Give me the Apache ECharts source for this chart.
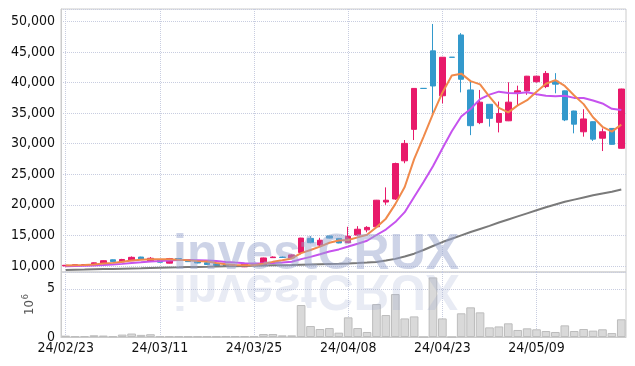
<!DOCTYPE html>
<html>
<head>
<meta charset="utf-8">
<script src="https://cdn.jsdelivr.net/npm/echarts@6/dist/echarts.min.js"></script>
<style>
  html, body { margin: 0; padding: 0; background: #fff; }
  #chart { width: 635px; height: 366px; }
</style>
</head>
<body>
<div id="chart"></div>
<script>
// trading days (yy/mm/dd)
const dates = [
  '24/02/23','24/02/26','24/02/27','24/02/28','24/02/29','24/03/04','24/03/05','24/03/06','24/03/07','24/03/08',
  '24/03/11','24/03/12','24/03/13','24/03/14','24/03/15','24/03/18','24/03/19','24/03/20','24/03/21','24/03/22',
  '24/03/25','24/03/26','24/03/27','24/03/28','24/03/29','24/04/01','24/04/02','24/04/03','24/04/04','24/04/05',
  '24/04/08','24/04/09','24/04/11','24/04/12','24/04/15','24/04/16','24/04/17','24/04/18','24/04/19','24/04/22',
  '24/04/23','24/04/24','24/04/25','24/04/26','24/04/29','24/04/30','24/05/02','24/05/03','24/05/07','24/05/08',
  '24/05/09','24/05/10','24/05/13','24/05/14','24/05/16','24/05/17','24/05/20','24/05/21','24/05/22','24/05/23'
];

const opens = [
  10000,10080,10200,10180,10400,11000,10650,10850,11450,10800,
  11020,10450,11200,11000,10780,10520,10350,10250,9950,9850,
  10100,10150,11350,11450,11300,12200,14500,13400,14900,14500,
  13800,15050,15900,16400,20450,20950,27200,32350,39060,45200,
  37850,44160,47800,38800,33450,36450,33500,33750,38250,38650,
  40150,39350,40250,38650,35350,31950,33600,30900,32500,29250
];
const closes = [
  10100,10200,10220,10500,10850,10700,11050,11400,11080,11250,
  10600,11200,10920,10700,10480,10220,10050,9950,10050,10300,
  10200,11300,11450,11380,11800,14550,13800,14200,14550,13750,
  14850,16000,16300,20750,20750,26750,30050,39050,39040,39450,
  44150,44140,40550,32950,36800,34150,34950,36800,38650,41050,
  41050,41500,39750,33900,33200,34050,30750,31950,29900,38950
];
const lows = [
  9950,10050,10150,10150,10350,10650,10550,10800,11000,10700,
  10550,10400,10850,10650,10420,10150,10000,9900,9900,9800,
  10050,10100,11300,11300,11250,11900,13700,13200,14500,13700,
  13750,14900,15500,16300,20000,20800,26800,30600,39040,35000,
  36600,44140,38400,31400,33200,32800,31850,33700,36300,38000,
  40000,39100,38250,33700,31700,31150,30450,28800,29850,29200
];
const highs = [
  10150,10250,10280,10550,10900,11050,11150,11550,11500,11450,
  11100,11300,11300,11050,10850,10600,10420,10300,10100,10350,
  10250,11350,11550,11550,11900,14600,14900,14600,14950,14550,
  16400,16500,16500,20800,22850,26900,30600,39100,39060,49600,
  44200,44160,48100,40150,38800,36500,36900,40050,39500,41100,
  41100,41900,41550,38700,35400,35650,33650,32500,32550,39000
];

// volume, millions of shares
const volume = [
  0.14,0.07,0.10,0.18,0.15,0.07,0.25,0.36,0.22,0.29,
  0.07,0.06,0.06,0.05,0.05,0.05,0.04,0.06,0.07,0.07,
  0.07,0.31,0.31,0.17,0.17,3.32,1.14,0.83,0.93,0.45,
  2.04,0.93,0.52,3.42,2.28,4.46,1.93,2.14,0,6.19,
  1.93,0,2.46,3.08,2.56,1.00,1.10,1.42,0.73,0.90,
  0.80,0.62,0.52,1.21,0.62,0.83,0.66,0.80,0.41,1.84
];

// moving averages
const ma5 = [
  10050,10100,10130,10220,10374,10494,10664,10900,11016,11096,
  11076,11106,11010,10934,10780,10704,10474,10280,10150,10114,
  10110,10360,10660,10926,11226,12096,12596,13146,13780,14170,
  14230,14670,15090,16330,17730,20110,22920,27470,31128,34868,
  38348,41166,41466,40248,39718,37718,35880,35130,36270,37120,
  38500,39810,40400,39450,37880,36480,34330,32770,31970,33120
];
const ma10 = [
  9950,9980,10010,10060,10130,10220,10330,10470,10600,10735,
  10785,10885,10955,10975,10938,10890,10790,10645,10542,10447,
  10407,10417,10470,10538,10670,11103,11478,11903,12353,12698,
  13163,13633,14118,15055,15950,17170,18795,21280,23729,26299,
  29229,32043,34468,35688,37293,38033,38523,38298,38259,38419,
  38109,37845,37765,37860,37500,37490,37070,36585,35710,35500
];
const ma60 = [
  9330,9370,9400,9440,9480,9510,9550,9590,9620,9660,
  9700,9730,9760,9800,9830,9860,9900,9930,9960,10000,
  10030,10060,10090,10120,10150,10190,10230,10270,10310,10350,
  10400,10460,10540,10650,10880,11150,11550,12000,12600,13250,
  13900,14450,15000,15550,16050,16550,17100,17600,18100,18600,
  19100,19600,20050,20500,20850,21200,21550,21850,22150,22500
];

const UP = '#e8196a';
const DOWN = '#3399cc';
const FONT = '"Liberation Sans Narrow", "DejaVu Sans Condensed", sans-serif';
const gridLine = { color: '#c8cde0', type: 'dotted', width: 1 };

const candles = opens.map((o, i) => [o, closes[i], lows[i], highs[i]]);

const chart = echarts.init(document.getElementById('chart'));
chart.setOption({
  animation: false,
  grid: [
    { left: 61, right: 9, top: 9, height: 263, show: true, borderColor: '#cccccc' },
    { left: 61, right: 9, top: 272, height: 65, show: true, borderColor: '#cccccc' }
  ],
  xAxis: [
    {
      type: 'category', gridIndex: 0, data: dates,
      axisLine: { show: false }, axisTick: { show: false },
      axisLabel: { show: false, interval: 9 },
      splitLine: { show: true, interval: 9, alignWithLabel: true, lineStyle: gridLine }
    },
    {
      type: 'category', gridIndex: 1, data: dates,
      axisLine: { lineStyle: { color: '#cccccc' } }, axisTick: { show: false },
      axisLabel: { interval: 9, color: '#111', fontSize: 14, fontFamily: FONT, margin: 4 },
      splitLine: { show: true, interval: 9, alignWithLabel: true, lineStyle: gridLine }
    }
  ],
  yAxis: [
    {
      type: 'value', gridIndex: 0, min: 9000, max: 52050, splitNumber: 8,
      axisLine: { show: true, lineStyle: { color: '#cccccc' } }, axisTick: { show: false },
      axisLabel: { color: '#111', fontSize: 14, fontFamily: FONT, margin: 6, showMinLabel: false, showMaxLabel: false },
      splitLine: { lineStyle: gridLine }
    },
    {
      type: 'value', gridIndex: 1, min: 0, max: 6.75, interval: 5,
      name: '{a|10}{b|6}', nameLocation: 'middle', nameRotate: 90, nameGap: 19,
      nameTextStyle: {
        rich: {
          a: { fontSize: 13, color: '#555', fontFamily: FONT },
          b: { fontSize: 9, color: '#555', fontFamily: FONT, padding: [0, 0, 8, 1] }
        }
      },
      axisLine: { show: true, lineStyle: { color: '#cccccc' } }, axisTick: { show: false },
      axisLabel: { color: '#111', fontSize: 14, fontFamily: FONT, margin: 6, showMaxLabel: false },
      splitLine: { lineStyle: gridLine }
    }
  ],
  graphic: [
    {
      type: 'text', x: 173, y: 280, z: 100, silent: true,
      style: { text: 'investCRUX', font: 'bold 50px "Liberation Sans"', fill: 'rgba(150,163,205,0.48)', verticalAlign: 'bottom' }
    },
    {
      type: 'text', x: 173, y: 264, scaleY: -1, z: 100, silent: true,
      style: { text: 'investCRUX', font: 'bold 50px "Liberation Sans"', fill: 'rgba(150,163,205,0.22)', verticalAlign: 'bottom' }
    }
  ],
  series: [
    {
      name: 'candle', type: 'candlestick', xAxisIndex: 0, yAxisIndex: 0,
      data: candles, barWidth: '64%',
      itemStyle: { color: UP, color0: DOWN, borderColor: UP, borderColor0: DOWN, borderWidth: 1 }
    },
    {
      name: 'MA60', type: 'line', data: ma60, symbol: 'none', smooth: false,
      lineStyle: { color: '#7a7a7a', width: 2 }
    },
    {
      name: 'MA10', type: 'line', data: ma10, symbol: 'none',
      lineStyle: { color: '#c653ee', width: 2 }
    },
    {
      name: 'MA5', type: 'line', data: ma5, symbol: 'none',
      lineStyle: { color: '#f08a4b', width: 2 }
    },
    {
      name: 'volume', type: 'bar', xAxisIndex: 1, yAxisIndex: 1,
      data: volume, barCategoryGap: '8%',
      itemStyle: { color: '#d9d9d9', borderColor: '#bdbdbd', borderWidth: 1 }
    }
  ]
});
</script>
</body>
</html>
